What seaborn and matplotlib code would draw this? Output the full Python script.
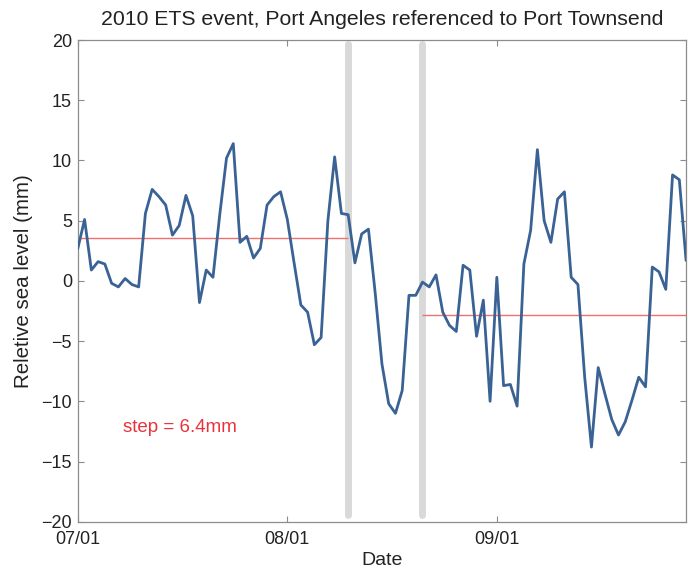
import matplotlib
matplotlib.use("Agg")
import matplotlib.pyplot as plt
import numpy as np
import pandas as pd
import seaborn as sns

# Daily relative sea level, Port Angeles minus Port Townsend (mm)
start_date = "2010-07-01"
sea_level = [
    2.7, 5.1, 0.9, 1.6, 1.4, -0.2, -0.5, 0.2, -0.3, -0.5,
    5.6, 7.6, 7.0, 6.3, 3.8, 4.6, 7.1, 5.4, -1.8, 0.9,
    0.3, 5.5, 10.2, 11.4, 3.2, 3.7, 1.9, 2.7, 6.3, 7.0,
    7.4, 5.1, 1.5, -2.0, -2.6, -5.3, -4.7, 5.0, 10.3, 5.6,
    5.5, 1.5, 3.9, 4.3, -1.0, -6.9, -10.2, -11.0, -9.1, -1.2,
    -1.2, -0.1, -0.5, 0.5, -2.6, -3.7, -4.2, 1.3, 0.9, -4.6,
    -1.6, -10.0, 0.3, -8.7, -8.6, -10.4, 1.4, 4.2, 10.9, 5.0,
    3.2, 6.8, 7.4, 0.3, -0.3, -8.0, -13.8, -7.2, -9.4, -11.5,
    -12.8, -11.7, -9.9, -8.0, -8.8, 1.15, 0.75, -0.7, 8.8, 8.4,
    1.7,
]
# ETS event start and end
event_dates = ["2010-08-10", "2010-08-21"]
# Mean levels before and after the event (mm)
pre_mean = 3.55
post_mean = -2.85
tick_dates = ["2010-07-01", "2010-08-01", "2010-09-01"]
tick_labels = ["07/01", "08/01", "09/01"]
y_ticks = [-20, -15, -10, -5, 0, 5, 10, 15, 20]

dates = pd.date_range(start_date, periods=len(sea_level), freq="D")
df = pd.DataFrame({"Date": dates, "level": sea_level})
events = pd.to_datetime(event_dates)

sns.set_theme(style="white")
plt.rcParams["font.family"] = ["Liberation Sans", "DejaVu Sans"]

fig = plt.figure(figsize=(6.93, 5.70), dpi=100)
ax = fig.add_axes([0.1123, 0.0847, 0.8777, 0.845])

# Event window markers
for d in events:
    ax.axvline(d, ymin=0.013, ymax=0.992, color="#d9d9d9", lw=5.0, zorder=1)

# Mean levels before and after the event
ax.hlines(pre_mean, dates[0], events[0], color="#f07070", lw=1.0, zorder=2)
ax.hlines(post_mean, events[1], dates[-1], color="#f07070", lw=1.0, zorder=2)

sns.lineplot(data=df, x="Date", y="level", ax=ax, color="#3a6295", lw=2.0, zorder=3)

ax.text(0.074, 0.195, f"step = {pre_mean - post_mean:.1f}mm", transform=ax.transAxes,
        color="#e8333c", fontsize=13.5, va="center", ha="left")

ax.set_xlim(dates[0], dates[-1])
ax.set_ylim(-20, 20)
ax.set_yticks(y_ticks)
ax.set_xticks(pd.to_datetime(tick_dates))
ax.set_xticklabels(tick_labels)

for s in ax.spines.values():
    s.set_color("#8c8c8c")
    s.set_linewidth(0.9)
ax.tick_params(direction="in", length=4, width=0.8, color="#8c8c8c",
               labelsize=13, labelcolor="#222222", top=True, right=True,
               bottom=True, left=True)
ax.tick_params(axis="x", pad=6.8)
ax.tick_params(axis="y", pad=4.2)

ax.set_xlabel("Date", fontsize=14, color="#222222", labelpad=2.5)
ax.set_ylabel("Reletive sea level (mm)", fontsize=14.8, color="#222222", labelpad=6)
ax.set_title("2010 ETS event, Port Angeles referenced to Port Townsend",
             fontsize=15.3, color="#222222", pad=11)

fig.savefig("out.png", dpi=100, facecolor="white")
